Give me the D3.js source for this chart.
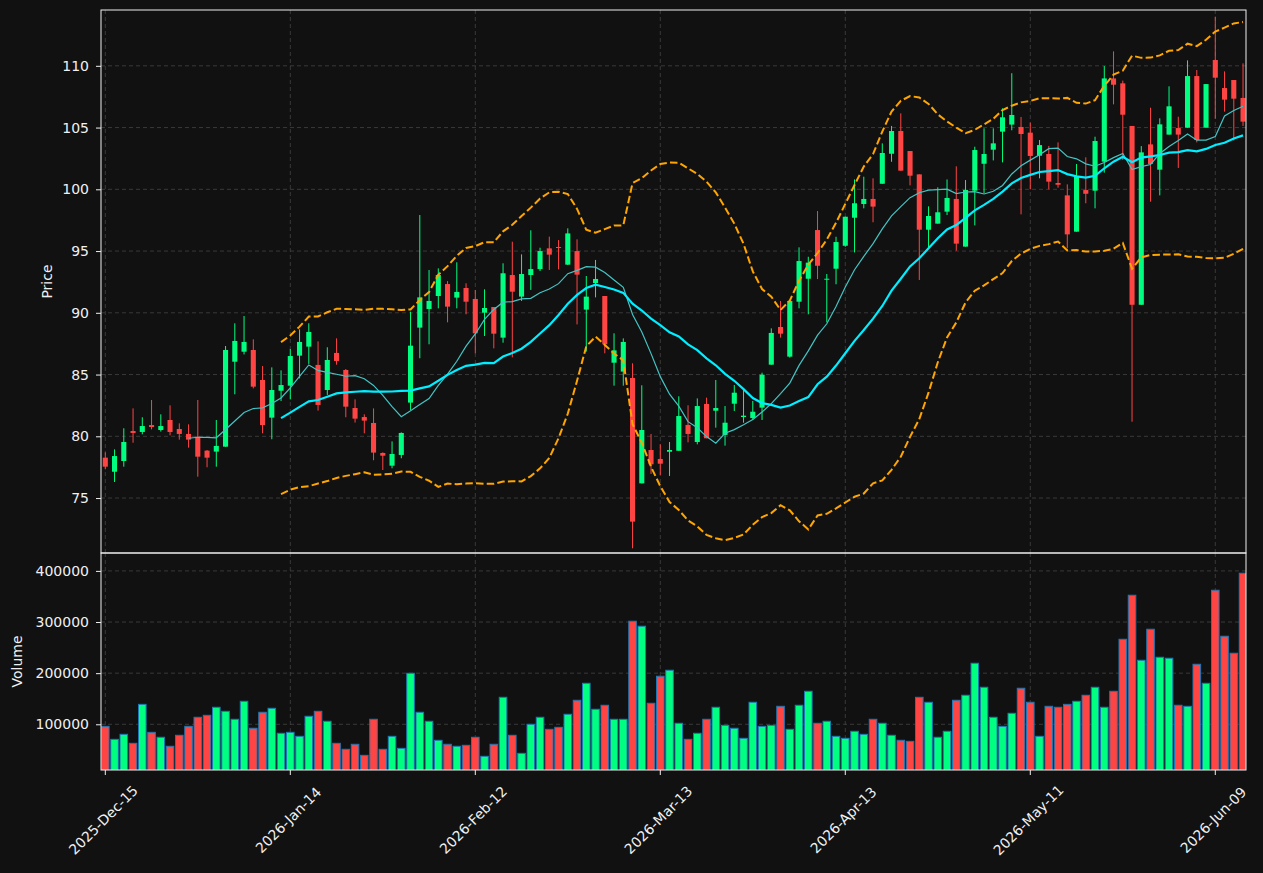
<!DOCTYPE html>
<html><head><meta charset="utf-8">
<script src="https://cdn.jsdelivr.net/npm/d3@7"></script>
<style>
body{margin:0;background:#111111;}
svg{display:block;}
text{font-family:"DejaVu Sans",sans-serif;}
</style>
</head><body>
<svg id="chart" width="1263" height="873"></svg>
<script>
const opens=[78.27,77.13,78.00,80.43,80.35,80.91,80.51,81.32,80.59,80.19,79.97,78.84,78.76,79.16,86.04,86.85,86.99,84.56,81.51,83.69,
84.10,86.53,87.26,85.78,83.75,86.75,85.37,82.29,81.56,81.08,78.65,77.62,78.49,82.73,88.80,90.31,91.36,92.33,91.23,92.01,
91.12,90.01,90.47,87.99,93.06,91.31,93.06,93.54,95.22,95.33,93.90,95.00,90.26,92.41,91.36,85.96,85.24,84.72,76.19,78.89,
78.16,78.75,78.83,80.92,79.54,82.62,82.07,80.11,82.64,81.56,81.48,82.32,85.80,88.85,86.45,90.90,92.76,96.70,92.68,93.57,
95.43,97.70,98.81,99.22,100.45,102.88,104.72,103.10,101.21,96.73,97.22,98.19,99.22,95.36,99.89,102.07,103.21,104.67,105.24,105.05,
104.59,102.72,102.86,100.51,99.51,96.57,99.94,99.89,102.24,108.98,108.58,105.13,90.65,103.64,101.59,104.43,104.96,104.99,109.17,104.99,
110.47,108.20,108.85,107.40];
const highs=[78.70,78.94,80.65,82.26,81.54,82.94,81.78,82.51,81.05,80.97,82.94,78.89,81.32,87.31,89.15,89.74,87.85,85.69,85.58,85.34,
87.07,88.66,89.15,87.69,87.21,87.93,85.45,82.99,81.78,82.26,78.70,79.59,80.32,90.09,97.92,93.47,93.60,92.57,94.09,92.39,
91.85,91.90,90.47,94.01,95.76,94.73,96.68,95.27,96.17,95.89,96.84,95.95,92.98,94.28,91.36,88.34,87.93,85.91,84.13,80.19,
79.35,79.54,83.24,82.51,83.07,83.13,84.56,82.45,84.15,83.75,82.86,85.15,88.74,90.96,90.96,95.30,94.54,98.24,93.14,96.16,
97.78,100.80,101.02,100.89,103.72,105.13,106.15,103.10,101.21,98.62,100.16,100.80,101.86,100.75,103.45,104.94,104.94,106.56,109.40,105.86,
105.40,103.99,103.51,103.80,100.40,102.05,102.59,104.26,109.98,111.17,108.80,105.13,103.50,106.61,105.75,108.34,105.88,110.44,109.66,108.52,
113.98,109.55,108.85,110.20];
const lows=[77.33,76.30,77.54,79.48,80.16,80.56,80.38,80.08,79.73,79.08,76.73,77.49,77.54,79.16,83.40,86.63,83.88,80.24,79.76,82.86,
82.99,84.69,85.86,82.08,83.35,85.80,81.54,81.11,80.24,78.06,77.27,77.41,78.22,82.13,86.32,87.45,90.36,89.23,90.36,89.88,
86.72,88.12,87.12,87.58,86.39,90.96,91.85,93.38,93.47,93.52,93.87,89.06,86.86,91.25,86.72,84.10,84.10,70.93,76.19,76.95,
76.87,76.79,78.83,79.51,79.35,79.84,80.70,79.24,82.05,81.10,81.32,81.32,85.80,87.99,86.37,90.36,89.88,92.73,89.23,92.31,
95.35,94.89,98.46,97.33,100.45,102.23,101.51,100.32,92.66,95.22,97.22,97.92,95.03,95.36,97.08,99.68,102.34,102.18,104.78,97.97,
100.00,100.89,100.00,100.13,95.22,96.57,98.87,98.46,101.35,106.88,102.37,81.18,90.65,99.00,99.51,104.43,101.73,104.99,103.80,104.99,
105.72,106.29,103.94,105.13];
const closes=[77.54,78.40,79.54,80.27,80.83,80.75,80.83,80.35,80.19,79.73,78.35,78.27,79.22,86.99,87.72,87.64,84.02,80.91,83.75,84.15,
86.50,87.64,88.45,82.54,86.18,86.10,82.40,81.43,81.27,78.68,78.43,78.57,80.27,87.34,91.25,90.96,93.06,90.50,91.69,90.90,
88.34,90.39,88.31,93.20,91.71,93.14,93.54,95.00,94.71,95.27,96.43,93.09,91.31,92.74,87.45,86.96,87.64,73.09,80.51,77.73,
77.78,78.89,81.64,80.19,82.45,79.84,82.29,81.10,83.53,81.67,81.99,84.99,88.37,88.31,90.96,94.19,94.06,93.81,92.76,95.73,
97.78,98.87,99.22,98.60,102.94,104.72,101.51,101.10,96.73,97.84,98.14,99.30,95.60,99.95,103.18,102.86,103.72,105.83,106.02,104.48,
102.70,103.58,100.62,100.37,96.35,101.02,99.64,103.91,108.98,108.47,106.04,90.65,102.99,102.05,105.26,106.72,104.43,109.17,103.99,108.52,
109.04,107.26,107.34,105.48];
const volumes=[96000,70600,80400,62800,139000,84300,74600,57000,78500,96000,113700,117600,133300,125400,109800,145000,92200,123500,131300,82400,
84300,76500,115700,125400,105900,62800,51100,60900,39300,109800,51100,76500,53000,199800,123500,105900,68700,60900,57000,58900,
74600,37400,60900,152800,78500,43200,100000,113700,90200,94100,119600,147000,180200,129400,137200,109800,109800,301600,291800,141100,
194000,205700,102000,70600,82400,109800,133300,98000,92200,72600,143100,96000,98000,135200,90200,137200,164600,102000,105900,76500,
72600,86300,80400,109800,102000,78500,68700,66700,152800,143100,74600,86300,147000,156800,219400,172400,113700,96000,121500,170500,
143100,76500,135200,133300,139000,145000,156800,172400,133300,164600,266300,352400,225200,285900,231100,229200,137200,135200,217400,180200,
362200,272200,239000,395500];
const tickIndex=[0,20,40,60,80,100,120];
const tickLabels=["2025-Dec-15","2026-Jan-14","2026-Feb-12","2026-Mar-13","2026-Apr-13","2026-May-11","2026-Jun-09"];
const priceTicks=[75,80,85,90,95,100,105,110];
const volumeTicks=[100000,200000,300000,400000];

const UP="#00ff80", DOWN="#ff4444", FG="#f0f0f0", GRID="#444444";
const svg=d3.select("#chart");
const L=101,R=1246,T=10,M=553,B=770;
const n=closes.length;
const x=d3.scaleLinear().domain([-0.465,123.32]).range([L,R]);
const yP=d3.scaleLinear().domain([70.55,114.52]).range([M,T]);
const yV=d3.scaleLinear().domain([10600,435000]).range([B,M]);
const step=x(1)-x(0);

svg.append("rect").attr("width",1263).attr("height",873).attr("fill","#111111");
const defs=svg.append("defs");
defs.append("clipPath").attr("id","cp").append("rect").attr("x",L).attr("y",T).attr("width",R-L).attr("height",M-T);
defs.append("clipPath").attr("id","cv").append("rect").attr("x",L).attr("y",M).attr("width",R-L).attr("height",B-M);

// grid
const g=svg.append("g").attr("stroke",GRID).attr("stroke-width",0.8).attr("stroke-dasharray","4,3");
priceTicks.forEach(t=>g.append("line").attr("x1",L).attr("x2",R).attr("y1",yP(t)).attr("y2",yP(t)));
volumeTicks.forEach(t=>g.append("line").attr("x1",L).attr("x2",R).attr("y1",yV(t)).attr("y2",yV(t)));
tickIndex.forEach(t=>{
  g.append("line").attr("x1",x(t)).attr("x2",x(t)).attr("y1",T).attr("y2",M);
  g.append("line").attr("x1",x(t)).attr("x2",x(t)).attr("y1",M).attr("y2",B);
});

// candles
const idx=d3.range(n);
const pc=svg.append("g").attr("clip-path","url(#cp)");
const color=i=>closes[i]>=opens[i]?UP:DOWN;
pc.selectAll("line.w").data(idx).join("line")
  .attr("x1",i=>x(i)).attr("x2",i=>x(i))
  .attr("y1",i=>yP(highs[i])).attr("y2",i=>yP(lows[i]))
  .attr("stroke",color).attr("stroke-width",1);
const bw=step*0.55;
pc.selectAll("rect.b").data(idx).join("rect")
  .attr("x",i=>x(i)-bw/2).attr("width",bw)
  .attr("y",i=>yP(Math.max(opens[i],closes[i])))
  .attr("height",i=>Math.max(1,Math.abs(yP(opens[i])-yP(closes[i]))))
  .attr("fill",color);

// moving averages and bands
function rolling(w){return idx.map(i=>i<w-1?null:d3.mean(closes.slice(i-w+1,i+1)));}
const ma10=rolling(10), ma20=rolling(20);
const sd20=idx.map(i=>{if(i<19)return null;const s=closes.slice(i-19,i+1);const m=d3.mean(s);return Math.sqrt(d3.mean(s.map(v=>(v-m)*(v-m))));});
const upper=idx.map(i=>ma20[i]==null?null:ma20[i]+2*sd20[i]);
const lower=idx.map(i=>ma20[i]==null?null:ma20[i]-2*sd20[i]);
const line=d3.line().defined(d=>d!=null).x((d,i)=>x(i)).y(d=>yP(d));
pc.append("path").attr("d",line(ma10)).attr("fill","none").attr("stroke","#44c4c4").attr("stroke-width",1.2);
pc.append("path").attr("d",line(ma20)).attr("fill","none").attr("stroke","#00eeff").attr("stroke-width",2.2);
pc.append("path").attr("d",line(upper)).attr("fill","none").attr("stroke","#ffa500").attr("stroke-width",2).attr("stroke-dasharray","7.5,3.2");
pc.append("path").attr("d",line(lower)).attr("fill","none").attr("stroke","#ffa500").attr("stroke-width",2).attr("stroke-dasharray","7.5,3.2");

// volume
const vc=svg.append("g").attr("clip-path","url(#cv)");
const vw=step*0.82;
vc.selectAll("rect").data(idx).join("rect")
  .attr("x",i=>x(i)-vw/2).attr("width",vw)
  .attr("y",i=>yV(volumes[i])).attr("height",i=>B-yV(volumes[i])+2)
  .attr("fill",color).attr("stroke","#1f77b4").attr("stroke-width",1);

// axes
function styleAxis(sel){sel.select(".domain").remove();sel.selectAll("line").attr("stroke",FG);sel.selectAll("text").attr("fill",FG).attr("font-size",14).attr("font-family","DejaVu Sans, sans-serif");}
svg.append("g").attr("transform",`translate(${L},0)`).call(d3.axisLeft(yP).tickValues(priceTicks).tickSize(5).tickPadding(7).tickFormat(d3.format("d"))).call(styleAxis);
svg.append("g").attr("transform",`translate(${L},0)`).call(d3.axisLeft(yV).tickValues(volumeTicks).tickSize(5).tickPadding(7).tickFormat(d3.format("d"))).call(styleAxis);
const xa=svg.append("g");
tickIndex.forEach((t,k)=>{
  xa.append("line").attr("x1",x(t)).attr("x2",x(t)).attr("y1",B).attr("y2",B+5).attr("stroke",FG);
  xa.append("text").attr("transform",`translate(${x(t)-2},820) rotate(-45)`).attr("text-anchor","middle").attr("dominant-baseline","central")
    .attr("fill",FG).attr("font-size",14).text(tickLabels[k]);
});

// frames
svg.append("rect").attr("x",L).attr("y",T).attr("width",R-L).attr("height",M-T).attr("fill","none").attr("stroke",FG).attr("stroke-width",1);
svg.append("rect").attr("x",L).attr("y",M).attr("width",R-L).attr("height",B-M).attr("fill","none").attr("stroke",FG).attr("stroke-width",1);

svg.append("text").attr("transform",`translate(47,${(T+M)/2}) rotate(-90)`).attr("text-anchor","middle").attr("dominant-baseline","central").attr("fill",FG).attr("font-size",14).text("Price");
svg.append("text").attr("transform",`translate(17,${(M+B)/2}) rotate(-90)`).attr("text-anchor","middle").attr("dominant-baseline","central").attr("fill",FG).attr("font-size",14).text("Volume");
</script>
</body></html>
